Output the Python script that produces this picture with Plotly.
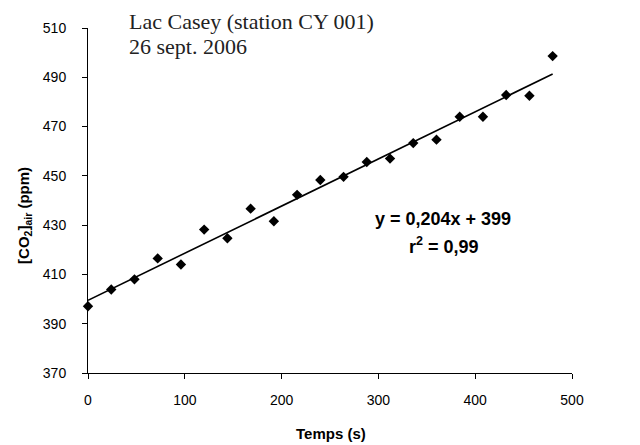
import numpy as np
import plotly.graph_objects as go

# Data
temps_s = [0, 24, 48, 72, 96, 120, 144, 168, 192, 216, 240, 264, 288, 312, 336, 360, 384, 408, 432, 456, 480]
co2_ppm = [397.1, 403.9, 408.0, 416.5, 414.0, 428.2, 424.7, 436.7, 431.6, 442.3, 448.3,
           449.6, 455.6, 457.0, 463.3, 464.7, 474.0, 474.0, 482.8, 482.5, 498.6]
x_ticks = [0, 100, 200, 300, 400, 500]
y_ticks = [370, 390, 410, 430, 450, 470, 490, 510]

title_lines = ["Lac Casey (station CY 001)", "26 sept. 2006"]
eq_line1 = "y = 0,204x + 399"
eq_line2 = "r<sup>2</sup> = 0,99"

# Linear trend line fitted to the data
slope, intercept = np.polyfit(temps_s, co2_ppm, 1)
trend_x = [min(temps_s), max(temps_s)]
trend_y = [slope * v + intercept for v in trend_x]

fig = go.Figure()
fig.add_trace(go.Scatter(x=trend_x, y=trend_y, mode="lines",
                         line=dict(color="black", width=1.6), showlegend=False))
fig.add_trace(go.Scatter(x=temps_s, y=co2_ppm, mode="markers",
                         marker=dict(symbol="diamond", size=8, color="black"),
                         showlegend=False, cliponaxis=False))

axis_font = dict(family="Liberation Sans, Arial, sans-serif", size=14, color="black")
fig.update_xaxes(range=[0, 500], tickvals=x_ticks, showgrid=False, zeroline=False,
                 showline=True, linecolor="black", linewidth=1,
                 ticks="outside", ticklen=5, tickcolor="black", tickfont=axis_font,
                 ticklabelstandoff=9)
fig.update_yaxes(range=[370, 510], tickvals=y_ticks, showgrid=False, zeroline=False,
                 showline=True, linecolor="black", linewidth=1,
                 ticks="outside", ticklen=5, tickcolor="black", tickfont=axis_font,
                 ticklabelstandoff=13)

PW, PH = 484.0, 347.0
X0, YB = 88.0, 373.0


def px(p):
    return (p - X0) / PW


def py(p):
    return (YB - p) / PH


bold = dict(family="Liberation Sans, Arial, sans-serif", size=15, color="black")
fig.add_annotation(text="<b>Temps (s)</b>", xref="paper", yref="paper",
                   x=px(331), y=py(434), xanchor="center", yanchor="middle",
                   showarrow=False, font=bold)
fig.add_annotation(text="<b>[CO<sub>2</sub>]<sub>air</sub> (ppm)</b>", xref="paper", yref="paper",
                   x=px(25), y=py(214), xanchor="center", yanchor="middle",
                   textangle=-90, showarrow=False, font=bold)

serif = dict(family="Liberation Serif, Times New Roman, serif", size=22, color="#222222")
for i, line in enumerate(title_lines):
    fig.add_annotation(text=line, xref="paper", yref="paper",
                       x=px(127), y=py(19 + 26 * i),
                       xanchor="left", yanchor="middle", showarrow=False, font=serif)

eq_font = dict(family="Liberation Sans, Arial, sans-serif", size=18, color="black")
fig.add_annotation(text="<b>" + eq_line1 + "</b>", xref="paper", yref="paper",
                   x=px(443), y=py(218), xanchor="center", yanchor="middle",
                   showarrow=False, font=eq_font)
fig.add_annotation(text="<b>" + eq_line2 + "</b>", xref="paper", yref="paper",
                   x=px(444), y=py(245), xanchor="center", yanchor="middle",
                   showarrow=False, font=eq_font)

# page body adds an 8px margin; size the figure so the plot area lands where the reference has it
fig.update_layout(width=632, height=437, margin=dict(l=80, r=68, t=18, b=72),
                  paper_bgcolor="white", plot_bgcolor="white")

fig.write_html("out.html")
